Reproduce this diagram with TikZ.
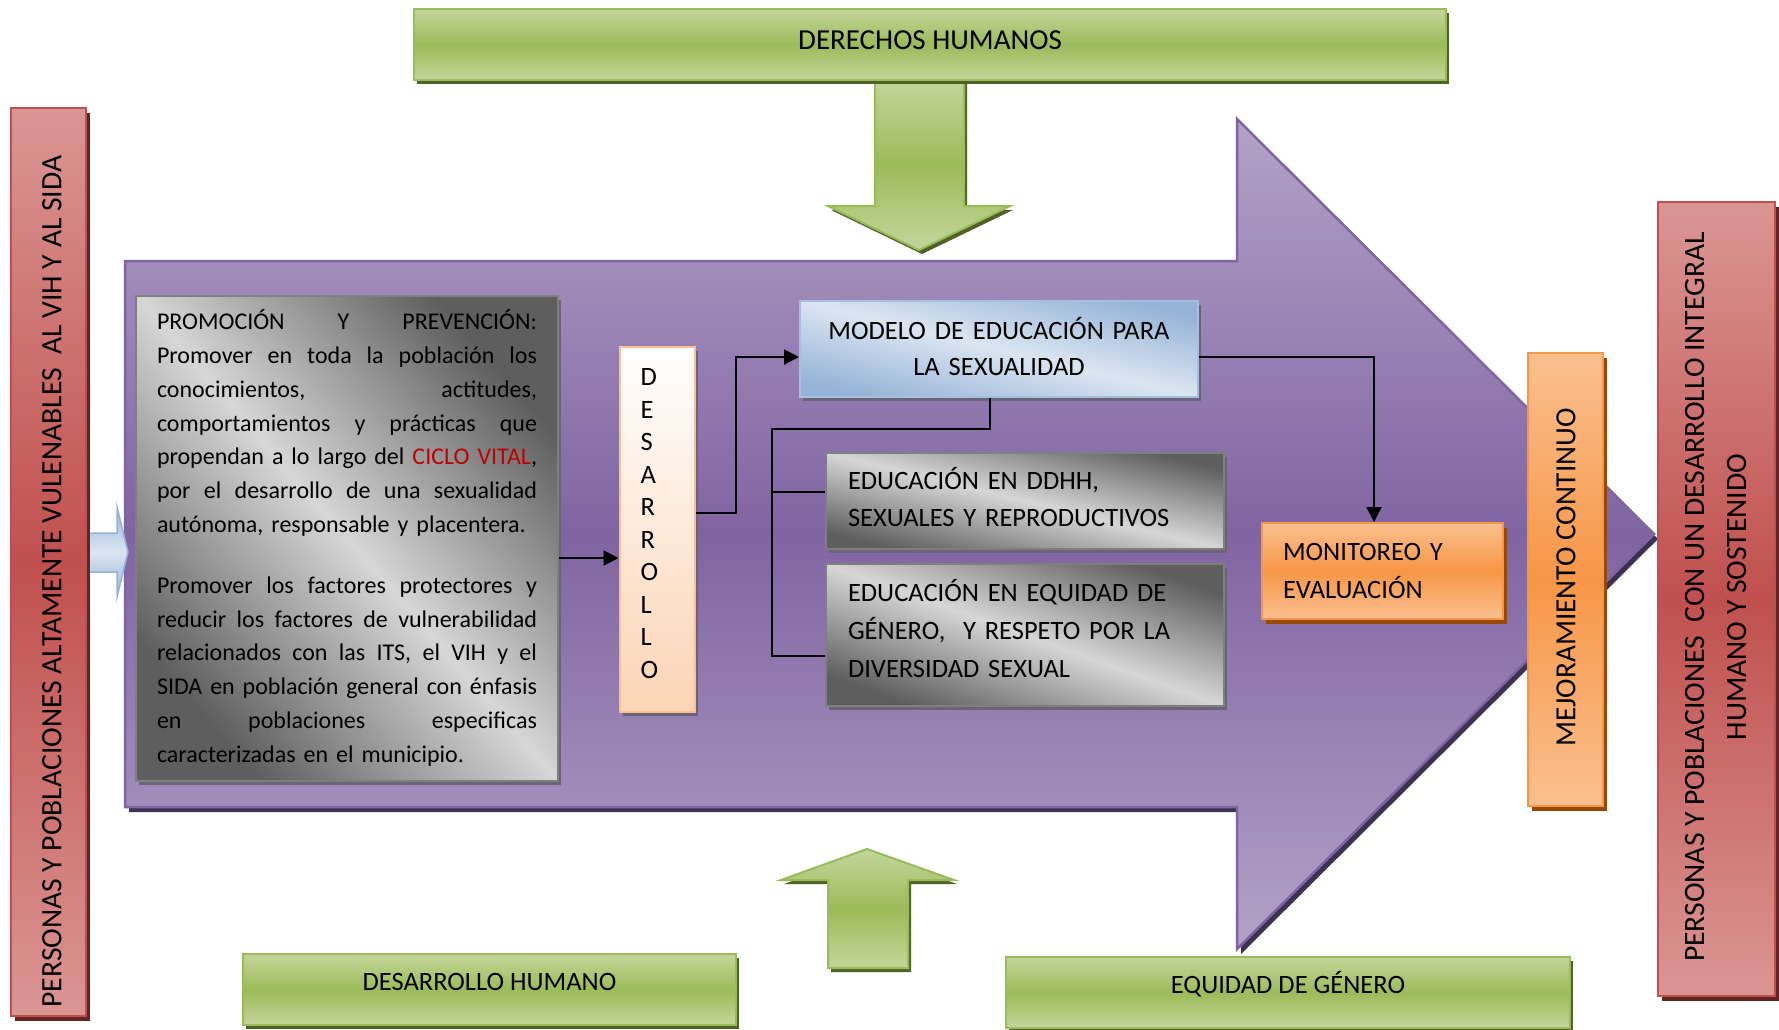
\documentclass[tikz,border=0pt]{standalone}
\usepackage{fontspec}
\setmainfont{Carlito}
\usetikzlibrary{arrows.meta,shadows,calc}

\definecolor{grnL}{HTML}{C3D69B}
\definecolor{grnM}{HTML}{9BBB59}
\definecolor{grnS}{HTML}{4F6228}
\definecolor{purL}{HTML}{B3A2C7}
\definecolor{purM}{HTML}{8064A2}
\definecolor{purS}{HTML}{3F3151}
\definecolor{redL}{HTML}{DA9694}
\definecolor{redM}{HTML}{C0504D}
\definecolor{redS}{HTML}{632523}
\definecolor{orgL}{HTML}{FAC090}
\definecolor{orgM}{HTML}{F79646}
\definecolor{orgS}{HTML}{984807}
\definecolor{pchB}{HTML}{FBD4B4}
\definecolor{pchD}{HTML}{FAC090}
\definecolor{bluL}{HTML}{DBE5F1}
\definecolor{bluM}{HTML}{95B3D7}
\definecolor{bluB}{HTML}{A7BFDE}
\definecolor{gryD}{HTML}{5E5E5E}
\definecolor{gryL}{HTML}{D6D6D6}
\definecolor{gryB}{HTML}{7F7F7F}
\definecolor{boxS}{HTML}{6B6478}
\definecolor{cvred}{HTML}{C00000}

% one fully justified line of the promotion text
\newcommand{\jline}[1]{{\spaceskip=0pt\xspaceskip=0pt\makebox[380pt][s]{#1}}}
% empty space kept under the last line of a text block
\newcommand{\tailspace}[1]{\par\nointerlineskip\vbox to #1{}}

\tikzset{
  fsz/.style 2 args={font=\fontsize{#1}{#2}\selectfont},
  shd/.style n args={3}{drop shadow={shadow xshift=#1, shadow yshift=#2, fill=#3, opacity=1}},
  greenbox/.style={draw=grnM, line width=2pt, top color=grnL, bottom color=grnL,
    middle color=grnM, shd={3pt}{-4pt}{grnS}, inner sep=0pt},
  redbar/.style={draw=redM, line width=2pt, top color=redL, bottom color=redL,
    middle color=redM, shd={4pt}{-5pt}{redS}, inner sep=0pt},
  orangebox/.style={draw=orgM, line width=2pt, top color=orgL, bottom color=orgL,
    middle color=orgM, shd={4pt}{-5pt}{orgS}, inner sep=0pt},
  graybox/.style={draw=gryB, line width=2pt, top color=gryD, bottom color=gryD,
    middle color=gryL, shading angle=#1, shd={3pt}{-4pt}{boxS}},
  bluebox/.style={draw=bluB, line width=2pt, top color=bluM, bottom color=bluM,
    middle color=bluL, shading angle=#1, shd={3pt}{-4pt}{boxS}},
  peachbox/.style={draw=pchD, line width=2pt, top color=white, bottom color=pchB,
    shd={3pt}{-4pt}{boxS}},
  conn/.style={line width=2pt, -{Triangle[length=15pt,width=15pt]}},
  link/.style={line width=2pt},
}

\begin{document}
\begin{tikzpicture}[x=1pt,y=-1pt]
\useasboundingbox (0,0) rectangle (1779,1029);
\clip (0,0) rectangle (1779,1029);
\fill[white] (0,0) rectangle (1779,1029);

% main process arrow
\path[draw=purM, line width=2.5pt, top color=purL, bottom color=purL, middle color=purM,
      shd={4pt}{-5pt}{purS}]
  (125,261) -- (1237,261) -- (1237,119) -- (1654,534) -- (1237,949)
  -- (1237,807) -- (125,807) -- cycle;

% small entry arrow
\path[draw=bluM, line width=1.5pt, top color=bluM, bottom color=bluM, middle color=bluL]
  (88,533) -- (117,533) -- (117,507) -- (128,552) -- (117,597) -- (117,572) -- (88,572) -- cycle;

% arrow from the top framework
\path[draw=grnM, line width=2pt, top color=grnL, bottom color=grnL, middle color=grnM,
      shd={3pt}{-4pt}{grnS}]
  (875,78) -- (964,78) -- (964,206) -- (1010,206) -- (919,250) -- (828,206) -- (875,206) -- cycle;

% arrow from the bottom frameworks
\path[draw=grnM, line width=2pt, top color=grnL, bottom color=grnL, middle color=grnM,
      shd={3pt}{-4pt}{grnS}]
  (828,968) -- (828,880) -- (781,880) -- (867,849) -- (954,880) -- (908,880) -- (908,968) -- cycle;

% frameworks
\node[greenbox, minimum width=1032pt, minimum height=71pt, fsz={29}{37},
      text height=18.7pt, text depth=9pt] (ddhhtop) at (930,44.5) {DERECHOS HUMANOS};
\node[greenbox, minimum width=493pt, minimum height=71pt, fsz={26.5}{37},
      text height=17pt, text depth=15pt] (dhum) at (489.5,989.5) {DESARROLLO HUMANO};
\node[greenbox, minimum width=564pt, minimum height=71pt, fsz={26.5}{37},
      text height=17pt, text depth=15pt] (eqg) at (1288,992.5) {EQUIDAD DE GÉNERO};

% populations
\node[redbar, minimum width=75pt, minimum height=908pt] (lbar) at (48.5,562) {};
\node[rotate=90, fsz={29.6}{41}, inner sep=0pt] (lbartxt) at ($(lbar.center)+(3.5,19.5)$)
  {PERSONAS Y POBLACIONES ALTAMENTE VULENABLES\ \ AL VIH Y AL SIDA};
\node[redbar, minimum width=117pt, minimum height=794pt] (rbar) at (1716.5,599) {};
\node[rotate=90, fsz={29.6}{42}, align=center, inner sep=0pt] (rbartxt) at ($(rbar.center)+(-1,-2)$)
  {PERSONAS Y POBLACIONES\ \ CON UN DESARROLLO INTEGRAL\\HUMANO Y SOSTENIDO};

% promotion and prevention
\node[graybox=-49, minimum width=422pt, minimum height=485pt, text width=380pt,
      inner xsep=21pt, inner ysep=0pt, align=left, fsz={24}{33.8}] (prom) at (347,538) {%
\jline{PROMOCIÓN Y PREVENCIÓN:}\\
\jline{Promover en toda la población los}\\
\jline{conocimientos, actitudes,}\\
\jline{comportamientos y prácticas que}\\
\jline{propendan a lo largo del \textcolor{cvred}{CICLO VITAL},}\\
\jline{por el desarrollo de una sexualidad}\\
autónoma, responsable y placentera.\\[27pt]
\jline{Promover los factores protectores y}\\
\jline{reducir los factores de vulnerabilidad}\\
\jline{relacionados con las ITS, el VIH y el}\\
\jline{SIDA en población general con énfasis}\\
\jline{en poblaciones especificas}\\
caracterizadas en el municipio.};

% development
\node[peachbox, minimum width=75pt, minimum height=365pt, text width=33pt,
      inner xsep=21pt, inner ysep=0pt, align=left, fsz={26.5}{32.5}]
  (des) at (657,529.5) {D\\E\\S\\A\\R\\R\\O\\L\\L\\O\tailspace{11.5pt}};

% education model
\node[bluebox=-13.6, minimum width=398pt, minimum height=96pt, text width=378pt,
      inner xsep=10pt, inner ysep=0pt, align=center, fsz={26.5}{36}]
  (mod) at (999,349) {MODELO DE EDUCACIÓN PARA\\LA SEXUALIDAD\tailspace{5.7pt}};
\node[graybox=-13.6, minimum width=398pt, minimum height=96pt, text width=354pt,
      inner xsep=22pt, inner ysep=0pt, align=left, fsz={26.5}{37}]
  (edh) at (1025,501) {EDUCACIÓN EN DDHH,\\SEXUALES Y REPRODUCTIVOS\tailspace{8pt}};
\node[graybox=-19.6, minimum width=398pt, minimum height=142pt, text width=354pt,
      inner xsep=22pt, inner ysep=0pt, align=left, fsz={26.5}{38}]
  (eeq) at (1025,635) {EDUCACIÓN EN EQUIDAD DE\\GÉNERO,\ \ Y RESPETO POR LA\\DIVERSIDAD SEXUAL\tailspace{12pt}};

% monitoring and improvement
\node[orangebox, minimum width=241pt, minimum height=96pt, text width=199pt,
      inner xsep=21pt, align=left, fsz={26.5}{38}]
  (mon) at (1382.5,571) {MONITOREO Y\\EVALUACIÓN};
\node[orangebox, minimum width=75pt, minimum height=453pt] (mej) at (1565.5,579.5) {};
\node[rotate=90, fsz={29.3}{37}, inner sep=0pt] (mejtxt) at ($(mej.center)+(0.5,-2)$)
  {MEJORAMIENTO CONTINUO};

% connectors
\coordinate (p1) at ($(prom.east)+(0,20)$);
\draw[conn] (p1) -- (p1 -| des.west);

\coordinate (p2) at ($(des.east)+(0,-16.5)$);
\coordinate (p3) at ($(mod.west)+(0,8)$);
\draw[conn] (p2) -- ++(40,0) |- (p3);

\coordinate (p4) at ($(mod.east)+(0,8)$);
\coordinate (p5) at ($(mon.north)+(-8.5,0)$);
\draw[conn] (p4) -| (p5);

\coordinate (p6) at ($(mod.south)+(-9,0)$);
\coordinate (bus) at ($(p6)+(-218,31)$);
\coordinate (b1) at ($(edh.west)+(0,-9)$);
\coordinate (b2) at ($(eeq.west)+(0,21)$);
\draw[link] (p6) |- (bus) |- (b2);
\draw[link] (bus |- b1) -- (b1);
\end{tikzpicture}
\end{document}
